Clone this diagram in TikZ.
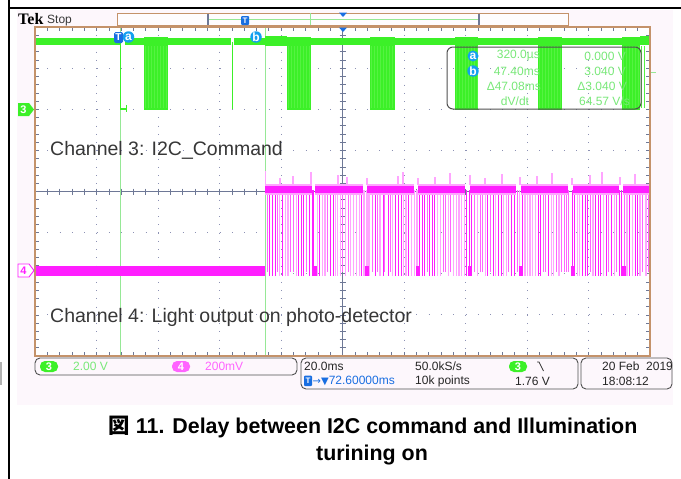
\documentclass[tikz,border=0pt]{standalone}
\usepackage{fontspec}
\setmainfont{Liberation Sans}
\newfontfamily\cjkfont{Noto Sans CJK JP}
\newfontfamily\tekfont{Liberation Serif}
\newfontfamily\symfont{DejaVu Sans}
\definecolor{bgpink}{RGB}{253,247,252}
\definecolor{tanline}{RGB}{196,146,106}
\definecolor{chg}{RGB}{60,240,40}
\definecolor{chglt}{RGB}{150,232,150}
\definecolor{chgtex}{RGB}{85,243,65}
\definecolor{chgtxt}{RGB}{120,232,120}
\definecolor{chm}{RGB}{255,30,255}
\definecolor{chmlt}{RGB}{255,165,255}
\definecolor{chmmid}{RGB}{255,100,255}
\definecolor{gridc}{RGB}{140,145,180}
\definecolor{axisc}{RGB}{110,120,150}
\definecolor{curblue}{RGB}{20,160,240}
\definecolor{tblue}{RGB}{25,110,225}
\definecolor{labgray}{RGB}{55,55,55}
\definecolor{boxgray}{RGB}{80,80,80}
\tikzset{
  griddotv/.style={gridc, line width=0.9pt, dash pattern=on 0.9pt off 7.325pt},
  griddoth/.style={gridc, line width=0.9pt, dash pattern=on 0.9pt off 11.4pt},
  tickline/.style={axisc, line width=0.6pt},
  band/.style={fill=chg},
  scopetxt/.style={font=\fontsize{12}{14}\selectfont, inner sep=0pt},
  chlabel/.style={font=\fontsize{19.5}{23}\selectfont, text=labgray, inner sep=0pt, anchor=base west},
  capt/.style={font=\fontsize{21.4}{25}\selectfont\bfseries, inner sep=0pt, anchor=base},
  statbox/.style={draw=boxgray, line width=0.9pt, rounded corners=5pt},
  curcircle/.style={circle, fill=curblue, text=white, inner sep=0pt, minimum size=11.5pt, font=\fontsize{12}{12}\selectfont\bfseries},
  pill/.style={rounded corners=5pt},
}
\begin{document}
\begin{tikzpicture}[x=1pt,y=-1pt]
\useasboundingbox (0,0) rectangle (681,479);
% table lines
\draw[black, line width=1.2pt] (9,0) -- (9,479);
\draw[black, line width=1.2pt] (9,8) -- (681,8);
\fill[gray!60] (0,362) rectangle (2,385);
% scope background
\fill[bgpink] (17,10) rectangle (673,405);
\fill[white] (35,27) rectangle (650,356);
% grid
\foreach \k in {1,...,9}{
  \draw[griddotv] ({35+61.5*\k},27) -- ({35+61.5*\k},356);
}
\foreach \j in {1,...,7}{
  \draw[griddoth] (35,{27+41.125*\j}) -- (650,{27+41.125*\j});
}
% center axes
\draw[axisc, line width=1pt] (35,191.5) -- (650,191.5);
\draw[axisc, line width=1pt] (342.5,27) -- (342.5,356);
\foreach \i in {1,...,49}{
  \draw[tickline] ({35+12.3*\i},188.5) -- ++(0,6);
  \draw[tickline] ({35+12.3*\i},27) -- ++(0,4);
  \draw[tickline] ({35+12.3*\i},356) -- ++(0,-4);
}
\foreach \i in {1,...,39}{
  \draw[tickline] (339.5,{27+8.225*\i}) -- ++(6,0);
  \draw[tickline] (35,{27+8.225*\i}) -- ++(4,0);
  \draw[tickline] (650,{27+8.225*\i}) -- ++(-4,0);
}
% cursors
\draw[chglt, line width=1.1pt] (120.5,27) -- (120.5,356);
\draw[chglt, line width=1.1pt] (265.5,27) -- (265.5,356);
% ---- channel 3 (green) ----
\fill[band] (35,38) rectangle (120,45);
\fill[band] (125,38) rectangle (144,45);
\fill[band] (168,38) rectangle (231,45);
\fill[band] (234,38) rectangle (287,45);
\fill[band] (265,36) rectangle (287,46);
\fill[band] (311,38) rectangle (370,45);
\fill[band] (395,38) rectangle (455,45);
\fill[band] (478,38) rectangle (538,45);
\fill[band] (562,38) rectangle (622,45);
\fill[band] (640,36) rectangle (650,45);
\foreach \a/\b in {144/168,287/311,370/395,455/478,538/562,622/640}{
  \fill[chg] (\a,37) rectangle (\b,110);
  \foreach \s in {0,...,7}{
    \draw[chgtex, line width=0.25pt] ({\a+1.5+3*\s},46) -- ({\a+1.5+3*\s},108);
  }
}
\draw[chg, line width=1.6pt] (120.5,40) -- (120.5,109) -- (126,109);
\draw[chg, line width=1pt] (126,105) -- (126,112);
\draw[chg, line width=1pt] (232.5,42) -- (232.5,109);
\draw[chglt, line width=1pt] (650,72) -- (656,72);
% ---- channel 4 (magenta) ----
\fill[chm] (35,266) rectangle (265,276);
\pgfmathsetseed{12345}
\foreach \i in {0,...,145}{
  \pgfmathsetmacro{\xx}{266.5+2.63*\i+0.8*rnd}
  \pgfmathtruncatemacro{\pick}{3*rnd}
  \ifcase\pick
    \draw[chm, line width=0.9pt] (\xx,190) -- (\xx,276);
  \or
    \draw[chmlt, line width=1.3pt] (\xx,190) -- (\xx,276);
  \else
    \draw[chmmid, line width=1pt] (\xx,190) -- (\xx,272);
  \fi
}
\foreach \a/\b in {265/312,315/363,367/414,418/465,470/516,521/568,573/619,623/650}{
  \fill[chmlt] (\a,183.5) rectangle (\b,194.5);
  \fill[chm] (\a,185.5) rectangle (\b,192.5);
}
\foreach \x/\t in {265.5/171,280/178,293/176,311/172,338/175,347/177,367/178,398/176,403/172,418/178,435/177,450/173,470/175,485/178,502/174,520/177,537/176,552/173,572/178,590/175,602/172,620/177,635/174}{
  \draw[chmlt, line width=1.2pt] (\x,185) -- (\x,\t);
}
\foreach \x in {313,364.5,416,467.5,519,570.5,622}{
  \fill[chm] (\x,266) rectangle ++(4,10);
}
% ground markers
\fill[chg] (18,103) -- (29,103) -- (34,109.5) -- (29,116) -- (18,116) -- cycle;
\node[text=white, font=\fontsize{11}{12}\selectfont\bfseries, inner sep=0pt] (g3) at (23.5,109.5) {3};
\filldraw[draw=chm, fill=white, line width=0.9pt] (18,264) -- (29,264) -- (34,270.5) -- (29,277) -- (18,277) -- cycle;
\node[text=chm, font=\fontsize{11}{12}\selectfont\bfseries, inner sep=0pt] (g4) at (23.5,270.5) {4};
% plot border
\draw[tanline, line width=1.5pt] (35,27) rectangle (650,356);
% top cursor markers
\fill[tblue, rounded corners=1.5pt] (114,32) rectangle (123,43);
\node[text=white, font=\fontsize{10}{11}\selectfont\bfseries, inner sep=0pt] (tmark) at (118.5,37.5) {T};
\node[curcircle] (ca) at (128.5,37) {a};
\node[curcircle] (cb) at (256,37) {b};
% top bar
\node[font=\tekfont\fontsize{16}{17}\selectfont\bfseries, inner sep=0pt, anchor=base west] (tek) at (18,24) {Tek};
\node[font=\fontsize{12}{13}\selectfont, text=labgray, inner sep=0pt, anchor=base west] (stop) at (47,23.5) {Stop};
\filldraw[draw=tanline, fill=white!60!bgpink, line width=0.8pt] (117,13) rectangle (568,25);
\draw[chglt, line width=1pt] (208,19) -- (479,19);
\draw[chglt, line width=1pt] (310,13) -- (310,25);
\draw[axisc, line width=1.5pt] (208,13.5) -- (208,24.5);
\draw[axisc, line width=1.5pt] (479,13.5) -- (479,24.5);
\fill[tblue, rounded corners=1pt] (241,16) rectangle (249,25);
\node[text=white, font=\fontsize{8}{9}\selectfont\bfseries, inner sep=0pt] (tbar) at (245,20.5) {T};
\fill[tblue] (339,12.5) -- (347,12.5) -- (343,17) -- cycle;
\fill[tblue] (339,27.5) -- (347,27.5) -- (343,32) -- cycle;
% measurement readout
\draw[boxgray, line width=1pt, rounded corners=6pt] (447,47) rectangle (641,109);
\node[curcircle, minimum size=11pt] (ra) at (473,56) {a};
\node[curcircle, minimum size=11pt] (rb) at (473,71) {b};
\node[scopetxt, text=chgtxt, anchor=east] (r1a) at (540,56) {320.0µs};
\node[scopetxt, text=chgtxt, anchor=east] (r2a) at (540,71) {47.40ms};
\node[scopetxt, text=chgtxt, anchor=east] (r3a) at (541,86) {Δ47.08ms};
\node[scopetxt, text=chgtxt, anchor=center] (r4a) at (515,101) {dV/dt};
\node[scopetxt, text=chgtxt, anchor=east] (r1b) at (626,56) {0.000 V};
\node[scopetxt, text=chgtxt, anchor=east] (r2b) at (626,71) {3.040 V};
\node[scopetxt, text=chgtxt, anchor=east] (r3b) at (627,86) {Δ3.040 V};
\node[scopetxt, text=chgtxt, anchor=east] (r4b) at (630,101) {64.57 V/s};
% channel labels
\node[chlabel] (lab3) at (50,155) {Channel 3: I2C\_Command};
\node[chlabel] (lab4) at (50,322) {Channel 4: Light output on photo-detector};
% status bar
\draw[statbox] (35,358) rectangle (297,375);
\fill[chg, pill] (40,361) rectangle (58,372);
\node[scopetxt, text=white, font=\fontsize{11}{12}\selectfont\bfseries] (p3) at (49,366.5) {3};
\node[scopetxt, text=chgtxt, anchor=west] (v3) at (73,366.5) {2.00 V};
\fill[chmmid, pill] (172,361) rectangle (190,372);
\node[scopetxt, text=white, font=\fontsize{11}{12}\selectfont\bfseries] (p4) at (181,366.5) {4};
\node[scopetxt, text=chmmid, anchor=west] (v4) at (205,366.5) {200mV};
\draw[statbox] (301,358) rectangle (578,389);
\node[scopetxt, text=black!85, anchor=west] (tb) at (304,366.5) {20.0ms};
\fill[tblue, rounded corners=1pt] (304,375.5) rectangle (312,386);
\node[text=white, font=\fontsize{8}{9}\selectfont\bfseries, inner sep=0pt] (tpos) at (308,381) {T};
\node[scopetxt, text=tblue, anchor=west] (tdel) at (312.5,381) {{\symfont\fontsize{10}{11}\selectfont →▼}72.60000ms};
\node[scopetxt, text=black!85, anchor=west] (sr) at (415,366.5) {50.0kS/s};
\node[scopetxt, text=black!85, anchor=west] (rl) at (415,381) {10k points};
\fill[chg, pill] (509,361) rectangle (527,372);
\node[scopetxt, text=white, font=\fontsize{11}{12}\selectfont\bfseries] (p3b) at (518,366.5) {3};
\draw[black!80, line width=0.8pt] (537,362) -- (539,362) -- (543.5,371);
\node[scopetxt, text=black!85, anchor=west] (tl) at (515,381) {1.76 V};
\draw[statbox] (581,358) rectangle (672,389);
\node[scopetxt, text=black!85, anchor=west] (dt) at (602,366.5) {20 Feb\ \ 2019};
\node[scopetxt, text=black!85, anchor=west] (tm) at (602,381) {18:08:12};
% caption
\node[capt] (cap1) at (373,433) {{\cjkfont\bfseries 図} 11. Delay between I2C command and Illumination};
\node[capt] (cap2) at (372,460) {turining on};
\end{tikzpicture}
\end{document}
